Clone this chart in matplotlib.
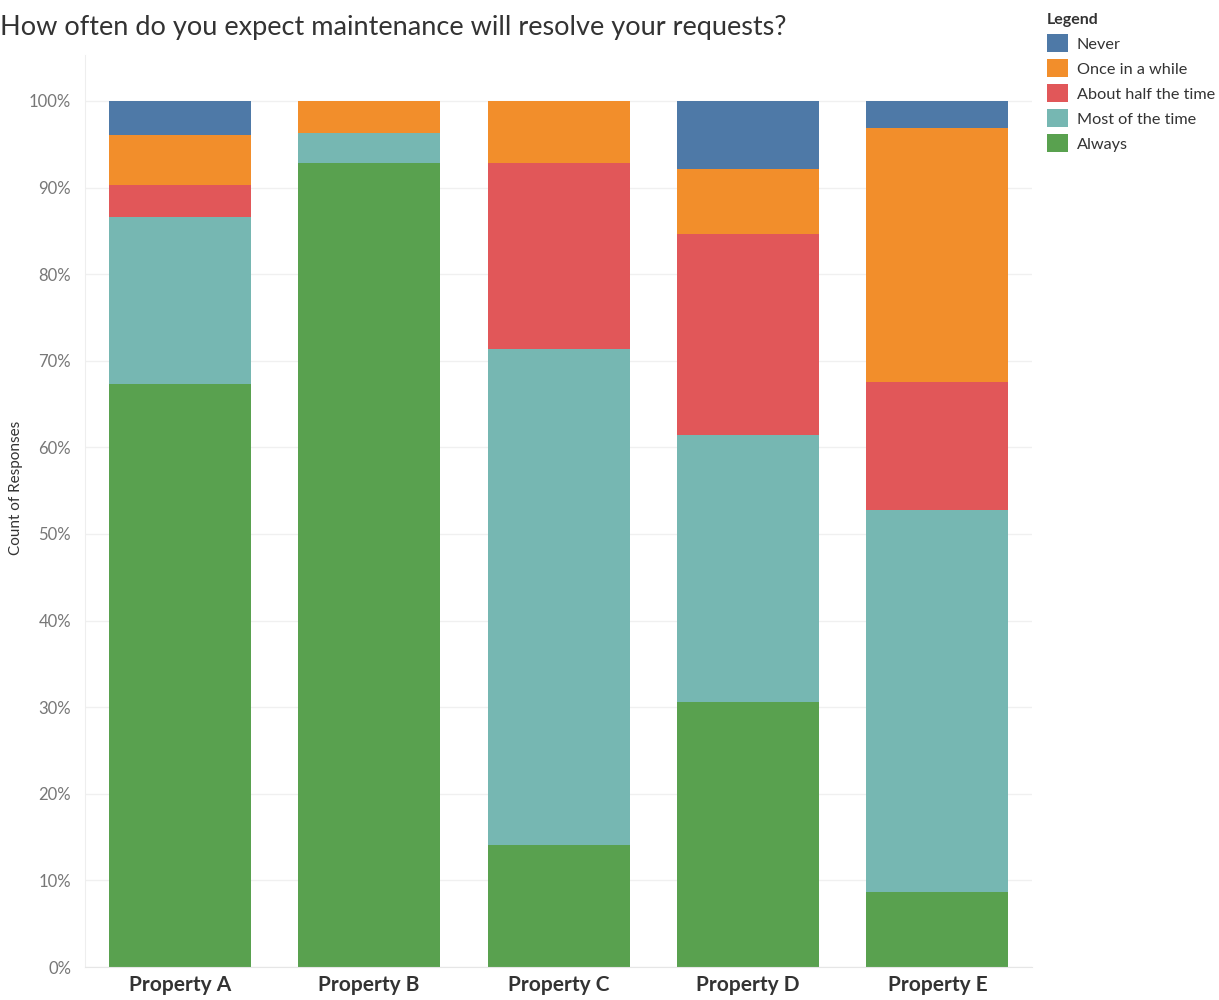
import numpy as np
import matplotlib.pyplot as plt

plt.rcParams['font.family'] = ['Lato', 'DejaVu Sans']

properties = ["Property A", "Property B", "Property C", "Property D", "Property E"]
answers = ["Always", "Most of the time", "About half the time", "Once in a while", "Never"]
colors = ["#59A14F", "#76B7B2", "#E15759", "#F28E2B", "#4E79A7"]

# percent of responses per property, bottom to top
always = [67.3, 92.8, 14.1, 30.6, 8.7]
most = [19.3, 3.5, 57.3, 30.8, 44.1]
half = [3.7, 0.0, 21.4, 23.2, 14.8]
once = [5.8, 3.7, 7.2, 7.5, 29.3]
never = [3.9, 0.0, 0.0, 7.9, 3.1]
values = [always, most, half, once, never]

fig = plt.figure(figsize=(12.19, 10), dpi=100)
ax = fig.add_axes([0.0697, 0.033, 0.777, 0.912])

x = np.arange(len(properties))
bottom = np.zeros(len(properties))
for name, vals, col in zip(answers, values, colors):
    ax.bar(x, vals, bottom=bottom, width=0.75, color=col, label=name, zorder=2)
    bottom += np.array(vals)

ax.set_xlim(-0.5, len(properties) - 0.5)
ax.set_ylim(0, 105.3)
ax.set_yticks(np.arange(0, 101, 10))
ax.set_yticklabels([f"{v}%" for v in range(0, 101, 10)], color="#777777", fontsize=12)
ax.set_xticks(x)
ax.set_xticklabels(properties, fontsize=15, fontweight="bold", color="#333333")
ax.tick_params(axis="y", length=0, pad=10)
ax.tick_params(axis="x", length=0, pad=6)
for sp in ["top", "right"]:
    ax.spines[sp].set_visible(False)
ax.spines["left"].set_color("#eeeeee")
ax.spines["bottom"].set_color("#e6e6e6")
ax.grid(axis="y", color="#f0f0f0", linewidth=1, zorder=0)
ax.set_axisbelow(True)

fig.text(0.013, 0.512, "Count of Responses", fontsize=11, color="#333333",
         rotation=90, ha="center", va="center")

fig.text(0.0, 0.972, "How often do you expect maintenance will resolve your requests?",
         fontsize=19.5, color="#333333", va="center", ha="left")

handles, labels = ax.get_legend_handles_labels()
leg = fig.legend(handles[::-1], labels[::-1], loc="upper left", bbox_to_anchor=(0.848, 1.0),
                 frameon=False, title="Legend", fontsize=11.7, title_fontsize=11.5,
                 handlelength=1.3, handleheight=1.3, handletextpad=0.55, labelspacing=0.45,
                 borderpad=0.3, alignment="left", labelcolor="#333333")
leg.get_title().set_fontweight("bold")
leg.get_title().set_color("#333333")

plt.savefig("out.png", dpi=100)
